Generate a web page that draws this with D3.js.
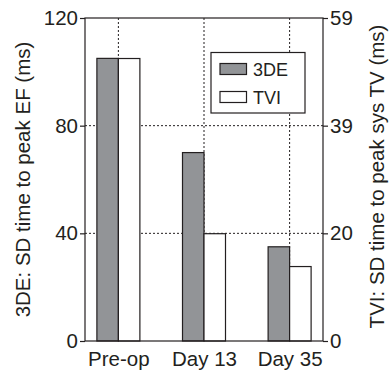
<!DOCTYPE html>
<html>
<head>
<meta charset="utf-8">
<script src="https://cdn.jsdelivr.net/npm/d3@7"></script>
<style>
  body { margin: 0; background: #fff; }
  text { font-family: "Liberation Sans", Arial, sans-serif; fill: #231f20; }
</style>
</head>
<body>
<div id="chart"></div>
<script>
// Chart data
const categories = ["Pre-op", "Day 13", "Day 35"];
const seriesNames = ["3DE", "TVI"];
const values3DE = [105, 70, 35];       // left axis (ms)
const valuesTVI = [51.6, 19.6, 13.6];  // right axis (ms)
const leftTicks = [0, 40, 80, 120];
const rightMax = 59;

const width = 389, height = 372;
const margin = { top: 18, right: 66, bottom: 31, left: 85 };
const innerW = width - margin.left - margin.right;
const innerH = height - margin.top - margin.bottom;
const gray = "#929497";
const ink = "#231f20";

const svg = d3.select("#chart")
  .append("svg")
  .attr("width", width)
  .attr("height", height);

const g = svg.append("g")
  .attr("transform", `translate(${margin.left}, ${margin.top})`);

// Scales
const x = d3.scalePoint().domain(categories).range([0, innerW]).padding(0.39);
const yLeft = d3.scaleLinear().domain([0, 120]).range([innerH, 0]);
const yRight = d3.scaleLinear().domain([0, rightMax]).range([innerH, 0]);
const barW = 21.5;

// Grid lines (dotted)
g.selectAll(".hgrid")
  .data(leftTicks.slice(1, -1))
  .enter()
  .append("line")
  .attr("class", "hgrid")
  .attr("x1", 0)
  .attr("x2", innerW)
  .attr("y1", (d) => yLeft(d))
  .attr("y2", (d) => yLeft(d))
  .style("stroke", ink)
  .style("stroke-width", 1)
  .style("stroke-dasharray", "2,2");

g.selectAll(".vgrid")
  .data(categories)
  .enter()
  .append("line")
  .attr("class", "vgrid")
  .attr("x1", (d) => x(d))
  .attr("x2", (d) => x(d))
  .attr("y1", 0)
  .attr("y2", innerH)
  .style("stroke", ink)
  .style("stroke-width", 1)
  .style("stroke-dasharray", "2,2");

// Bars
g.selectAll(".bar3de")
  .data(categories)
  .enter()
  .append("rect")
  .attr("class", "bar3de")
  .attr("x", (d) => x(d) - barW)
  .attr("y", (d, i) => yLeft(values3DE[i]))
  .attr("width", barW)
  .attr("height", (d, i) => innerH - yLeft(values3DE[i]))
  .style("fill", gray)
  .style("stroke", ink)
  .style("stroke-width", 1.2);

g.selectAll(".bartvi")
  .data(categories)
  .enter()
  .append("rect")
  .attr("class", "bartvi")
  .attr("x", (d) => x(d))
  .attr("y", (d, i) => yRight(valuesTVI[i]))
  .attr("width", barW)
  .attr("height", (d, i) => innerH - yRight(valuesTVI[i]))
  .style("fill", "#fff")
  .style("stroke", ink)
  .style("stroke-width", 1.2);

// Frame
g.append("rect")
  .attr("x", 0)
  .attr("y", 0)
  .attr("width", innerW)
  .attr("height", innerH)
  .style("fill", "none")
  .style("stroke", ink)
  .style("stroke-width", 1.2);

// Axes
const xAxis = d3.axisBottom(x).tickSize(0).tickPadding(10);
const yAxisL = d3.axisLeft(yLeft).tickValues(leftTicks).tickSize(5).tickPadding(2);
const rightTicks = leftTicks.map((t) => (t / 120) * rightMax);
const yAxisR = d3.axisRight(yRight).tickValues(rightTicks).tickSize(5).tickPadding(2)
  .tickFormat((d) => Math.round(d));

function styleAxis(sel, size) {
  sel.select(".domain").remove();
  sel.selectAll("line").style("stroke", ink).style("stroke-width", 1.2);
  sel.selectAll("text")
    .style("font-size", size + "px")
    .style("fill", ink)
    .style("font-family", "'Liberation Sans', Arial, sans-serif");
}

g.append("g")
  .attr("transform", `translate(0, ${innerH})`)
  .call(xAxis)
  .call((s) => styleAxis(s, 20.5));

g.append("g").call(yAxisL).call((s) => styleAxis(s, 20.5));
g.append("g").attr("transform", `translate(${innerW}, 0)`).call(yAxisR).call((s) => styleAxis(s, 20.5));

// Axis titles
svg.append("text")
  .attr("transform", `translate(30, ${margin.top + innerH / 2}) rotate(-90)`)
  .attr("text-anchor", "middle")
  .style("font-size", "20.5px")
  .text("3DE: SD time to peak EF (ms)");

svg.append("text")
  .attr("transform", `translate(384, ${margin.top + innerH / 2 - 3}) rotate(-90)`)
  .attr("text-anchor", "middle")
  .style("font-size", "20.5px")
  .text("TVI: SD time to peak sys TV (ms)");

// Legend
const legend = g.append("g")
  .attr("transform", `translate(${211 - margin.left}, ${52.5 - margin.top})`);

legend.append("rect")
  .attr("width", 94)
  .attr("height", 60.5)
  .style("fill", "#fff")
  .style("stroke", ink)
  .style("stroke-width", 1.2);

const items = legend.selectAll(".legend-item")
  .data(seriesNames)
  .enter()
  .append("g")
  .attr("class", "legend-item")
  .attr("transform", (d, i) => `translate(9, ${11 + i * 28})`);

items.append("rect")
  .attr("width", 26.5)
  .attr("height", 11)
  .style("fill", (d, i) => (i === 0 ? gray : "#fff"))
  .style("stroke", ink)
  .style("stroke-width", 1.2);

items.append("text")
  .attr("x", 33)
  .attr("y", 12)
  .style("font-size", "18px")
  .text((d) => d);
</script>
</body>
</html>
